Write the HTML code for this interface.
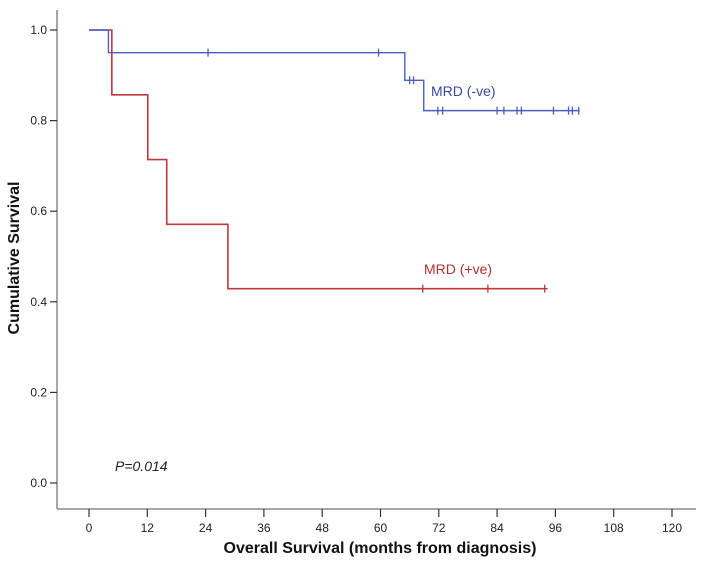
<!DOCTYPE html>
<html><head><meta charset="utf-8"><style>
body{margin:0;background:#fff;}
svg{display:block;font-family:"Liberation Sans",Arial,sans-serif;}
</style></head><body>
<svg id="chart" width="708" height="565" viewBox="0 0 708 565">
<g id="axes"></g>
<g id="series"></g>
<text x="0" y="0" transform="translate(19,258) rotate(-90)" text-anchor="middle" font-size="16" font-weight="bold" fill="#111">Cumulative Survival</text>
<text x="380" y="553" text-anchor="middle" font-size="16" font-weight="bold" fill="#111">Overall Survival (months from diagnosis)</text>
<text x="115" y="471" font-size="14" font-style="italic" fill="#222">P=0.014</text>
<text x="431" y="96" font-size="14" fill="#3a4aa0">MRD (-ve)</text>
<text x="424" y="274" font-size="14" fill="#b03030">MRD (+ve)</text>
</svg>
<script>
const xTicks=[0,12,24,36,48,60,72,84,96,108,120];
const yTicks=[0,0.2,0.4,0.6,0.8,1.0];
const negTimes=[0,4,65,68.9,101];
const negSurv=[1,0.95,0.889,0.822,0.822];
const negCensor=[24.5,59.6,66,66.8,71.8,72.8,84,85.4,88.1,89,95.6,98.7,99.5,100.8];
const posTimes=[0,4.7,12.1,16,28.6,93.8];
const posSurv=[1,0.857,0.714,0.571,0.429,0.429];
const posCensor=[68.7,82.1,93.8];

const X=m=>89+m*(583/120);
const Y=s=>483-s*453;
const NS='http://www.w3.org/2000/svg';
function mk(tag,attrs,parent){const e=document.createElementNS(NS,tag);for(const k in attrs)e.setAttribute(k,attrs[k]);parent.appendChild(e);return e;}
const ax=document.getElementById('axes');
const yl=mk('line',{x1:57,y1:10,x2:57,y2:509,stroke:'#888','stroke-width':1.5},ax);


const xl=mk('line',{x1:57,y1:509,x2:696,y2:509,stroke:'#888','stroke-width':1.5},ax);


xTicks.forEach(t=>{
  const tk=mk('line',{x1:X(t),y1:509,x2:X(t),y2:517,stroke:'#333','stroke-width':1.2},ax);
  
  
  const tx=mk('text',{x:X(t),y:532,'text-anchor':'middle','font-size':12,fill:'#222'},ax);
  tx.textContent=t;
  
  
});
yTicks.forEach(t=>{
  const tk=mk('line',{x1:50,y1:Y(t),x2:57,y2:Y(t),stroke:'#333','stroke-width':1.2},ax);
  
  
  const tx=mk('text',{x:47,y:Y(t)+4,'text-anchor':'end','font-size':12,fill:'#222'},ax);
  tx.textContent=t.toFixed(1);
  
  
});
const sg=document.getElementById('series');
function stepPath(times,surv){
  let d='M'+X(times[0])+','+Y(surv[0]);
  for(let i=1;i<times.length;i++){d+=' H'+X(times[i])+' V'+Y(surv[i]);}
  return d;
}
function survAt(times,surv,t){let s=surv[0];for(let i=0;i<times.length;i++){if(times[i]<=t)s=surv[i];}return s;}
const pp=mk('path',{d:stepPath(posTimes,posSurv),fill:'none',stroke:'#c03838','stroke-width':1.6},sg);


const np=mk('path',{d:stepPath(negTimes,negSurv),fill:'none',stroke:'#4a5fc0','stroke-width':1.4},sg);


negCensor.forEach(t=>{
  const y=Y(survAt(negTimes,negSurv,t));
  const c=mk('line',{x1:X(t),y1:y-4,x2:X(t),y2:y+4,stroke:'#4a5fc0','stroke-width':1.3},sg);
  
  
});
posCensor.forEach(t=>{
  const y=Y(survAt(posTimes,posSurv,t));
  const c=mk('path',{d:`M${X(t)},${y-4}V${y+4}M${X(t)-3},${y}H${X(t)+3}`,stroke:'#c03838','stroke-width':1.3,fill:'none'},sg);
  
  
});
</script>
</body></html>
